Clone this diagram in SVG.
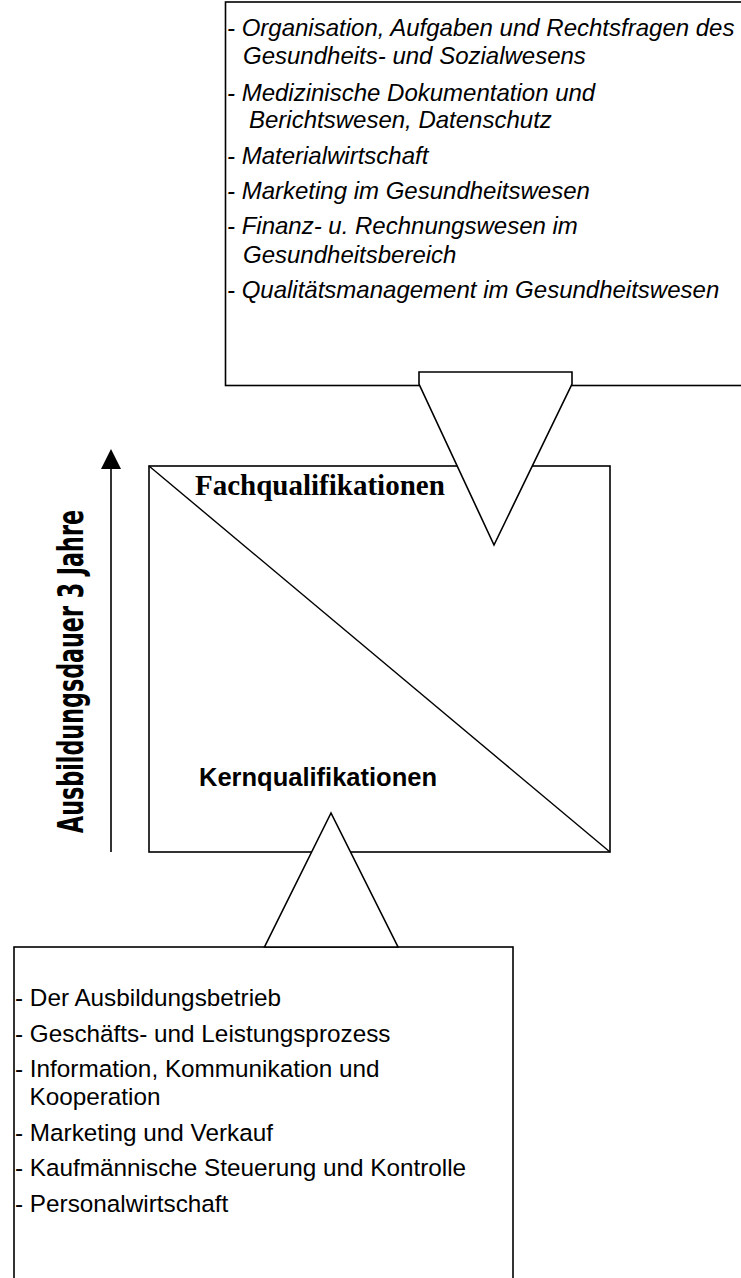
<svg xmlns="http://www.w3.org/2000/svg" width="741" height="1278" viewBox="0 0 741 1278">
<style>
.box{fill:#fff;stroke:#000;stroke-width:1.6}
.ln{fill:none;stroke:#000;stroke-width:1.4}
.it{font-family:"Liberation Sans",Arial,sans-serif;font-style:italic;font-size:24px;fill:#000}
.rg{font-family:"Liberation Sans",Arial,sans-serif;font-size:24.3px;fill:#000}
.fq{font-family:"Liberation Serif","Times New Roman",serif;font-weight:bold;font-size:29px;fill:#000}
.kq{font-family:"Liberation Sans",Arial,sans-serif;font-weight:bold;font-size:25.5px;fill:#000}
.vt{font-family:"DejaVu Sans Condensed","DejaVu Sans",sans-serif;font-weight:bold;font-size:36px;fill:#000}
</style>
<g id="fach-list">
<rect class="box" x="225.5" y="2" width="530" height="383.5"/>
<text class="it" x="227" y="36">- Organisation, Aufgaben und Rechtsfragen des</text>
<text class="it" x="243" y="64">Gesundheits- und Sozialwesens</text>
<text class="it" x="227" y="101">- Medizinische Dokumentation und</text>
<text class="it" x="249" y="128">Berichtswesen, Datenschutz</text>
<text class="it" x="227" y="164">- Materialwirtschaft</text>
<text class="it" x="227" y="199">- Marketing im Gesundheitswesen</text>
<text class="it" x="227" y="234">- Finanz- u. Rechnungswesen im</text>
<text class="it" x="243" y="263">Gesundheitsbereich</text>
<text class="it" x="227" y="298">- Qualitätsmanagement im Gesundheitswesen</text>
</g>
<g id="main-square">
<rect class="box" x="149" y="466" width="461" height="386"/>
<line class="ln" x1="149" y1="466" x2="610" y2="852"/>
<text class="fq" x="195" y="495">Fachqualifikationen</text>
<text class="kq" x="199" y="786">Kernqualifikationen</text>
</g>
<g id="kern-list">
<rect class="box" x="14" y="947" width="499" height="340"/>
<text class="rg" x="15" y="1006">- Der Ausbildungsbetrieb</text>
<text class="rg" x="15" y="1042">- Geschäfts- und Leistungsprozess</text>
<text class="rg" x="15" y="1077">- Information, Kommunikation und</text>
<text class="rg" x="29.5" y="1105">Kooperation</text>
<text class="rg" x="15" y="1141">- Marketing und Verkauf</text>
<text class="rg" x="15" y="1176">- Kaufmännische Steuerung und Kontrolle</text>
<text class="rg" x="15" y="1212">- Personalwirtschaft</text>
</g>
<g id="connectors">
<polygon class="box" points="419,372 572,372 572,384 494,545 419,384"/>
<polygon class="box" points="331,813 264.5,947 398,947"/>
<line x1="111" y1="467" x2="111" y2="852" stroke="#000" stroke-width="1.6"/>
<polygon points="111,449 101,469 121,469" fill="#000"/>
</g>
<g id="duration-label">
<text class="vt" transform="translate(83,833) rotate(-90)" x="0" y="0" textLength="323" lengthAdjust="spacingAndGlyphs">Ausbildungsdauer 3 Jahre</text>
</g>
</svg>
